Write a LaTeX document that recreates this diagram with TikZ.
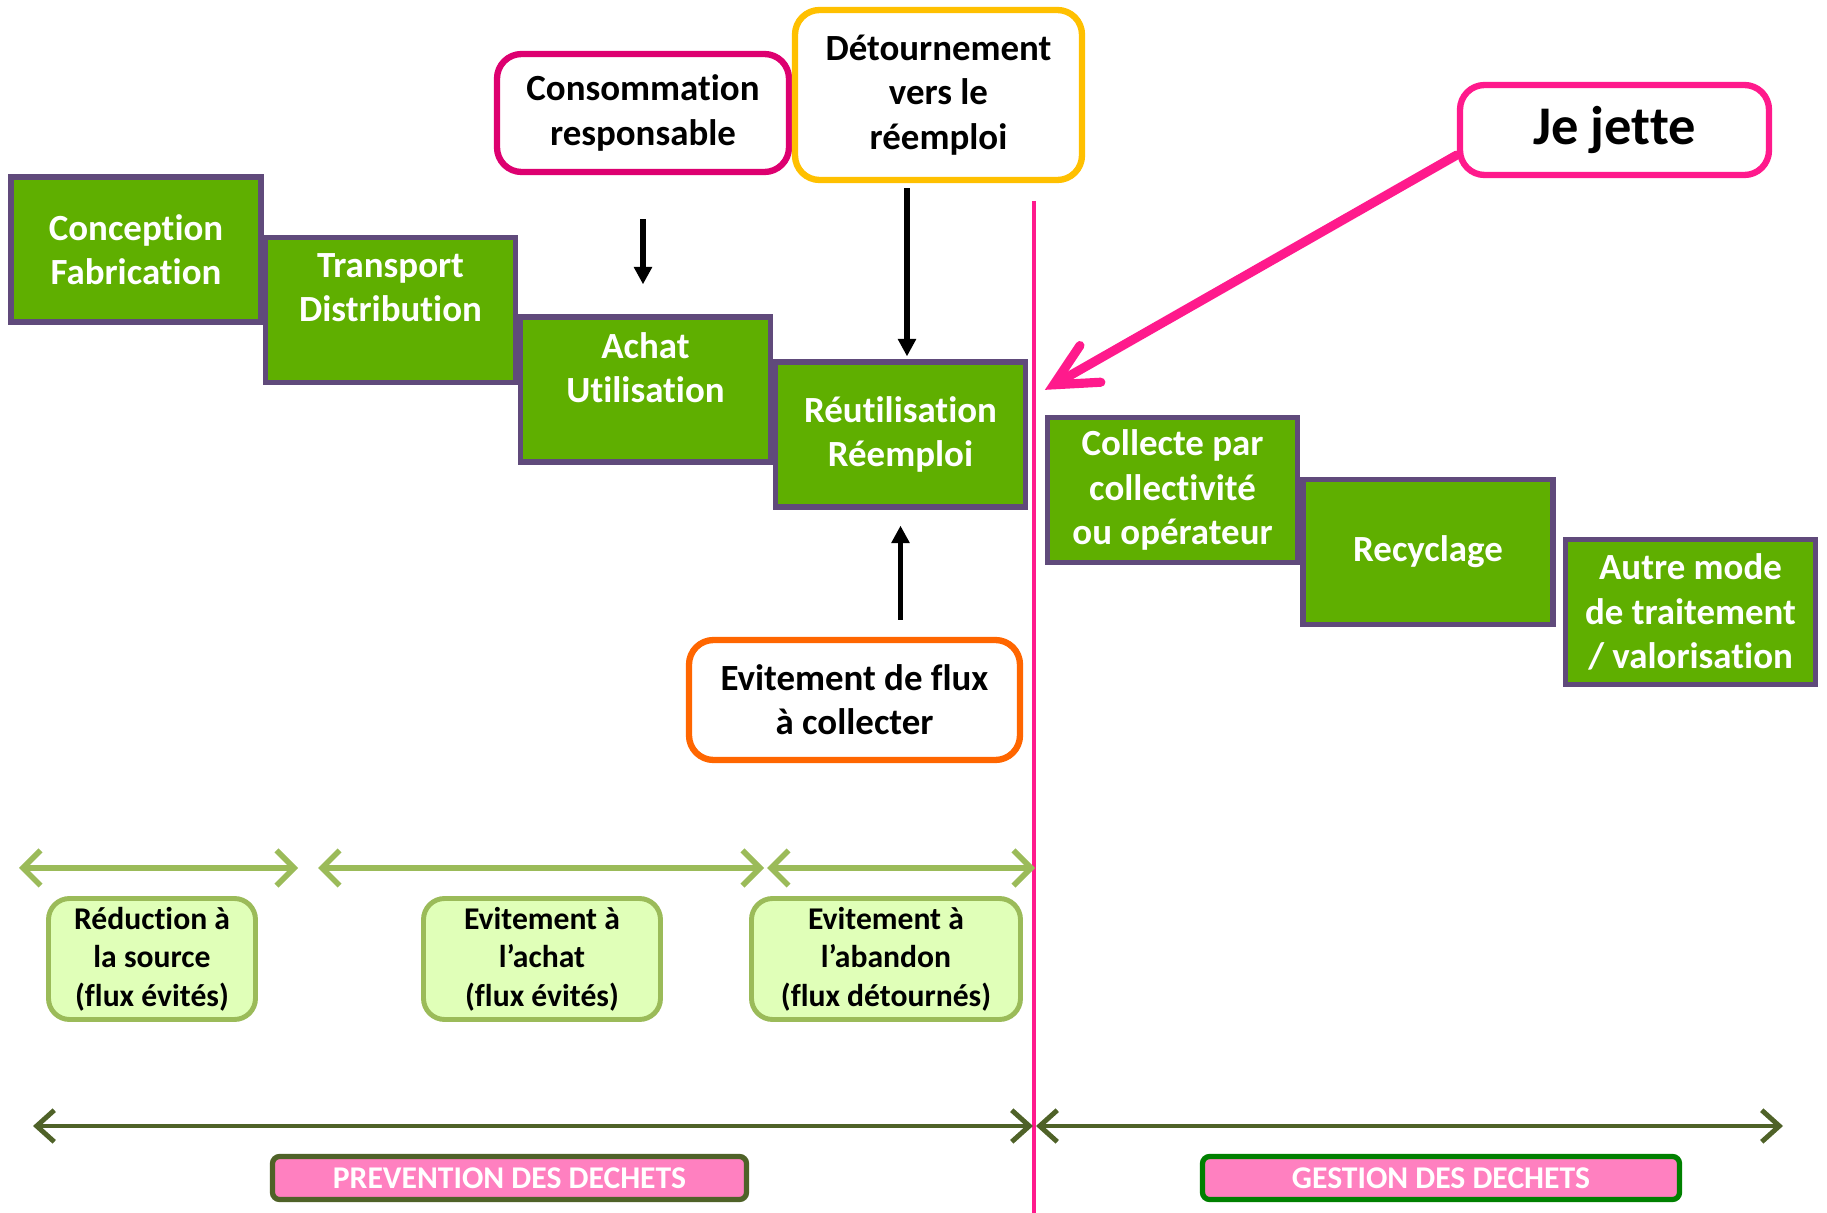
\documentclass[tikz,border=0pt]{standalone}
\usepackage{fontspec}
\setmainfont{Carlito}[Ligatures=NoCommon]
\usepackage{xcolor}
\usetikzlibrary{shapes,arrows.meta,positioning}
\definecolor{boxgreen}{HTML}{5FAF00}
\definecolor{boxpurple}{HTML}{604A7B}
\definecolor{consored}{HTML}{DD0070}
\definecolor{detourgold}{HTML}{FFC000}
\definecolor{jettepink}{HTML}{FF1A8C}
\definecolor{evitorange}{HTML}{FF6600}
\definecolor{lightgreen}{HTML}{9BBB59}
\definecolor{palegreen}{HTML}{E0FFB8}
\definecolor{darkolive}{HTML}{4F6228}
\definecolor{labelpink}{HTML}{FF80C0}
\definecolor{gestgreen}{HTML}{008000}
\tikzset{
box1/.style={draw=boxpurple, line width=1.5pt, fill=boxgreen, text=white, rectangle, align=center, inner sep=0pt, minimum width=2.50cm, minimum height=1.45cm, font=\fontsize{10.5}{12.6}\selectfont\bfseries},
box2/.style={line width=1.8pt, fill=white, rectangle, rounded corners=7pt, align=center, inner sep=0pt, font=\fontsize{10.5}{12.6}\selectfont\bfseries},
box3/.style={draw=lightgreen, line width=1.4pt, fill=palegreen, rectangle, rounded corners=6pt, align=center, inner sep=0pt, minimum width=2.07cm, minimum height=1.21cm, font=\fontsize{9}{11}\selectfont\bfseries},
box4/.style={line width=1.5pt, fill=labelpink, text=white, rectangle, rounded corners=2pt, inner sep=0pt, minimum width=4.75cm, minimum height=0.43cm, font=\fontsize{9}{11}\selectfont\bfseries},
down/.style={line width=1.5pt, -{Triangle[width=5pt,length=5pt]}},
phase/.style={draw=lightgreen, line width=1.6pt, {Straight Barb[length=5pt,width=10pt]}-{Straight Barb[length=5pt,width=10pt]}},
sector/.style={draw=darkolive, line width=1.4pt, {Straight Barb[length=5pt,width=9pt]}-{Straight Barb[length=5pt,width=9pt]}},
}

\begin{document}
\begin{tikzpicture}
\useasboundingbox (0,0) rectangle (18.27,-12.13);

\node[box1] (conception) at (1.36,-2.495) {Conception\\Fabrication};
\node[box1] (transport) at (3.905,-3.10) {Transport\\Distribution\\{}};
\node[box1] (achat) at (6.455,-3.895) {Achat\\Utilisation\\{}};
\node[box1] (reemploi) at (9.005,-4.345) {Réutilisation\\Réemploi};
\node[box1] (collecte) at (11.725,-4.90) {Collecte par\\collectivité\\ou opérateur};
\node[box1] (recyclage) at (14.28,-5.52) {Recyclage};
\node[box1] (autre) at (16.905,-6.12) {Autre mode\\de traitement\\/ valorisation};

\node[box2, draw=consored, minimum width=2.92cm, minimum height=1.18cm] (conso) at (6.43,-1.13) {Consommation\\responsable};
\node[box2, draw=detourgold, minimum width=2.87cm, minimum height=1.70cm] (detour) at (9.385,-0.95) {Détournement\\vers le\\réemploi};
\node[box2, draw=jettepink, minimum width=3.09cm, minimum height=0.90cm, font=\fontsize{15.5}{18}\selectfont\bfseries] (jette) at (16.145,-1.30) {Je jette};
\node[box2, draw=evitorange, minimum width=3.31cm, minimum height=1.20cm] (evit) at (8.545,-7.00) {Evitement de flux\\à collecter};

\draw[down, shorten <=0.44cm, shorten >=0.30cm] (conso.south) -- (conso.south |- achat.north);
\draw[down, shorten <=0.05cm, shorten >=0.03cm] ([xshift=0.065cm]reemploi.north |- detour.south) -- ([xshift=0.065cm]reemploi.north);
\draw[down, shorten <=0.17cm, shorten >=0.16cm] (reemploi.south |- evit.north) -- (reemploi.south);
\draw[jettepink, line width=2.6pt, line cap=round, -{Straight Barb[length=12pt,width=12pt,line cap=round]}] ([yshift=-0.25cm]jette.west) -- ([yshift=0.25cm]collecte.north west);

\coordinate (septop) at (10.34,-2.01);
\coordinate (sepbot) at (10.34,-12.13);
\draw[jettepink, line width=1.2pt] (septop) -- (sepbot);

\coordinate (g0) at (0.19,-8.68);
\coordinate (g1) at (2.98,-8.68);
\coordinate (g2) at (3.18,-8.68);
\coordinate (g3) at (7.64,-8.68);
\coordinate (g4) at (7.67,-8.68);
\coordinate (g5) at (10.35,-8.68);
\draw[phase] (g0) -- (g1);
\draw[phase] (g2) -- (g3);
\draw[phase] (g4) -- (g5);

\node[box3] (reduc) at (1.52,-9.59) {Réduction à\\la source\\(flux évités)};
\node[box3, minimum width=2.37cm] (achatphase) at (5.42,-9.59) {Evitement à\\l’achat\\(flux évités)};
\node[box3, minimum width=2.69cm] (abandon) at (8.86,-9.59) {Evitement à\\l’abandon\\(flux détournés)};

\coordinate (d0) at (0.33,-11.26);
\coordinate (d1) at (10.33,-11.26);
\coordinate (d2) at (10.36,-11.26);
\coordinate (d3) at (17.83,-11.26);
\draw[sector] (d0) -- (d1);
\draw[sector] (d2) -- (d3);

\node[box4, draw=darkolive, minimum width=4.74cm] (prevlabel) at (5.095,-11.78) {PREVENTION DES DECHETS};
\node[box4, draw=gestgreen, minimum width=4.77cm] (gestlabel) at (14.41,-11.78) {GESTION DES DECHETS};

\end{tikzpicture}
\end{document}
